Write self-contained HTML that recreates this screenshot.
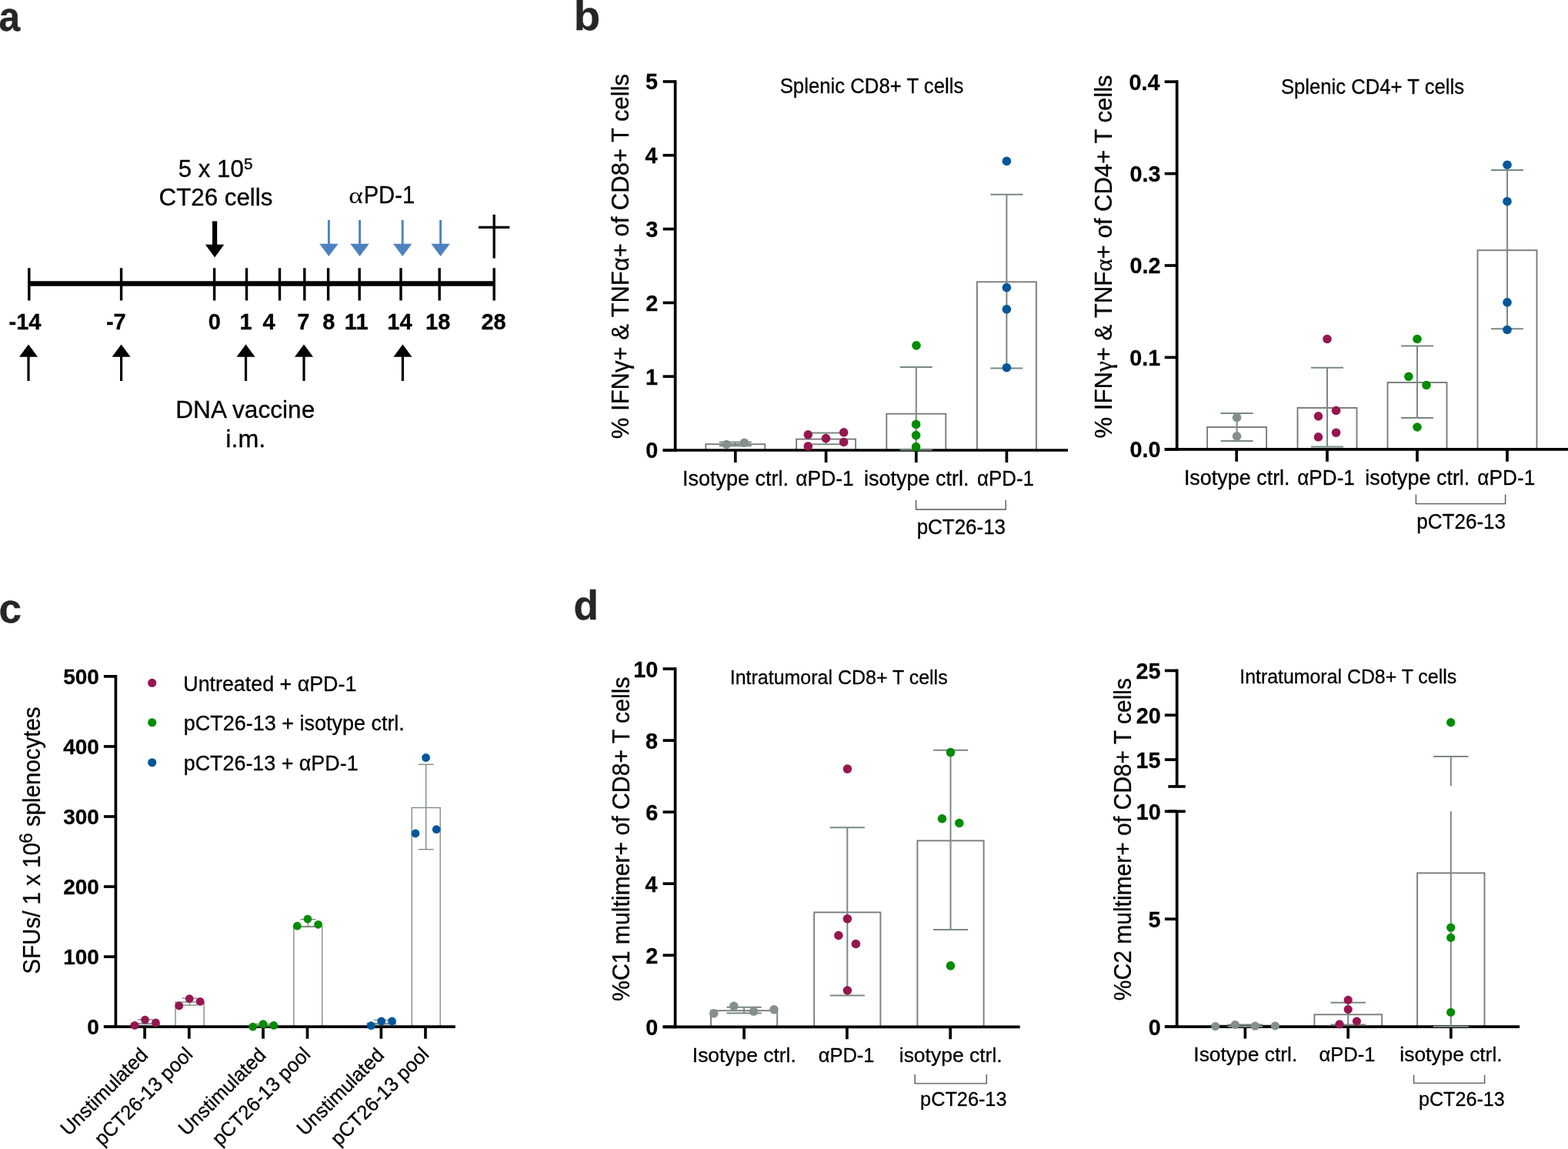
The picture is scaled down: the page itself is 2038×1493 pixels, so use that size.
<!DOCTYPE html>
<html><head><meta charset="utf-8"><title>Figure</title>
<style>html,body{margin:0;padding:0;background:#fff;overflow:hidden;} svg{display:block;} text{font-family:"Liberation Sans",Arial,sans-serif;}</style>
</head><body>
<svg width="2038" height="1493" viewBox="0 0 2038 1493">
<rect width="2038" height="1493" fill="#fff"/>
<text x="-1.50" y="39.50" font-size="53" text-anchor="start" font-weight="bold" textLength="27.6" lengthAdjust="spacingAndGlyphs" fill="#262626" stroke="#262626" stroke-width="0.3">a</text>
<text x="745.80" y="39.00" font-size="53" text-anchor="start" font-weight="bold" textLength="34.4" lengthAdjust="spacingAndGlyphs" fill="#262626" stroke="#262626" stroke-width="0.3">b</text>
<text x="-1.50" y="808.50" font-size="53" text-anchor="start" font-weight="bold" fill="#262626" stroke="#262626" stroke-width="0.3">c</text>
<text x="745.50" y="805.00" font-size="53" text-anchor="start" font-weight="bold" fill="#262626" stroke="#262626" stroke-width="0.3">d</text>
<line x1="36.10" y1="368.50" x2="642.20" y2="368.50" stroke="#000" stroke-width="6.5" stroke-linecap="butt"/>
<line x1="37.80" y1="348.30" x2="37.80" y2="390.50" stroke="#000" stroke-width="3.4" stroke-linecap="butt"/>
<line x1="157.60" y1="348.30" x2="157.60" y2="390.50" stroke="#000" stroke-width="3.4" stroke-linecap="butt"/>
<line x1="278.60" y1="348.30" x2="278.60" y2="390.50" stroke="#000" stroke-width="3.4" stroke-linecap="butt"/>
<line x1="320.50" y1="348.30" x2="320.50" y2="390.50" stroke="#000" stroke-width="3.4" stroke-linecap="butt"/>
<line x1="363.50" y1="348.30" x2="363.50" y2="390.50" stroke="#000" stroke-width="3.4" stroke-linecap="butt"/>
<line x1="395.80" y1="348.30" x2="395.80" y2="390.50" stroke="#000" stroke-width="3.4" stroke-linecap="butt"/>
<line x1="426.60" y1="348.30" x2="426.60" y2="390.50" stroke="#000" stroke-width="3.4" stroke-linecap="butt"/>
<line x1="467.20" y1="348.30" x2="467.20" y2="390.50" stroke="#000" stroke-width="3.4" stroke-linecap="butt"/>
<line x1="521.00" y1="348.30" x2="521.00" y2="390.50" stroke="#000" stroke-width="3.4" stroke-linecap="butt"/>
<line x1="571.20" y1="348.30" x2="571.20" y2="390.50" stroke="#000" stroke-width="3.4" stroke-linecap="butt"/>
<line x1="642.20" y1="348.30" x2="642.20" y2="390.50" stroke="#000" stroke-width="3.4" stroke-linecap="butt"/>
<text x="32.50" y="427.90" font-size="29" text-anchor="middle" font-weight="bold" fill="#000" stroke="#000" stroke-width="0.3">-14</text>
<text x="150.80" y="427.90" font-size="29" text-anchor="middle" font-weight="bold" fill="#000" stroke="#000" stroke-width="0.3">-7</text>
<text x="278.90" y="427.90" font-size="29" text-anchor="middle" font-weight="bold" fill="#000" stroke="#000" stroke-width="0.3">0</text>
<text x="319.50" y="427.90" font-size="29" text-anchor="middle" font-weight="bold" fill="#000" stroke="#000" stroke-width="0.3">1</text>
<text x="349.60" y="427.90" font-size="29" text-anchor="middle" font-weight="bold" fill="#000" stroke="#000" stroke-width="0.3">4</text>
<text x="394.40" y="427.90" font-size="29" text-anchor="middle" font-weight="bold" fill="#000" stroke="#000" stroke-width="0.3">7</text>
<text x="427.20" y="427.90" font-size="29" text-anchor="middle" font-weight="bold" fill="#000" stroke="#000" stroke-width="0.3">8</text>
<text x="463.20" y="427.90" font-size="29" text-anchor="middle" font-weight="bold" fill="#000" stroke="#000" stroke-width="0.3">11</text>
<text x="519.40" y="427.90" font-size="29" text-anchor="middle" font-weight="bold" fill="#000" stroke="#000" stroke-width="0.3">14</text>
<text x="569.20" y="427.90" font-size="29" text-anchor="middle" font-weight="bold" fill="#000" stroke="#000" stroke-width="0.3">18</text>
<text x="641.60" y="427.90" font-size="29" text-anchor="middle" font-weight="bold" fill="#000" stroke="#000" stroke-width="0.3">28</text>
<line x1="279.10" y1="287.40" x2="279.10" y2="318.50" stroke="#000" stroke-width="6.2" stroke-linecap="butt"/>
<polygon points="266.9,317.8 291.3,317.8 279.1,334.5" fill="#000"/>
<line x1="427.40" y1="286.00" x2="427.40" y2="318.00" stroke="#4e81bf" stroke-width="2.9" stroke-linecap="butt"/>
<polygon points="415.2,316.8 439.6,316.8 427.4,333" fill="#4e81bf"/>
<line x1="467.60" y1="286.00" x2="467.60" y2="318.00" stroke="#4e81bf" stroke-width="2.9" stroke-linecap="butt"/>
<polygon points="455.4,316.8 479.8,316.8 467.6,333" fill="#4e81bf"/>
<line x1="523.20" y1="286.00" x2="523.20" y2="318.00" stroke="#4e81bf" stroke-width="2.9" stroke-linecap="butt"/>
<polygon points="511.0,316.8 535.4,316.8 523.2,333" fill="#4e81bf"/>
<line x1="572.60" y1="286.00" x2="572.60" y2="318.00" stroke="#4e81bf" stroke-width="2.9" stroke-linecap="butt"/>
<polygon points="560.4,316.8 584.8,316.8 572.6,333" fill="#4e81bf"/>
<line x1="642.20" y1="278.80" x2="642.20" y2="335.60" stroke="#000" stroke-width="3.3" stroke-linecap="butt"/>
<line x1="622.00" y1="295.40" x2="662.30" y2="295.40" stroke="#000" stroke-width="3.2" stroke-linecap="butt"/>
<line x1="37.00" y1="462.00" x2="37.00" y2="495.00" stroke="#000" stroke-width="3.2" stroke-linecap="butt"/>
<polygon points="25.0,463.8 49.0,463.8 37.0,447.5" fill="#000"/>
<line x1="157.60" y1="462.00" x2="157.60" y2="495.00" stroke="#000" stroke-width="3.2" stroke-linecap="butt"/>
<polygon points="145.6,463.8 169.6,463.8 157.6,447.5" fill="#000"/>
<line x1="319.50" y1="462.00" x2="319.50" y2="495.00" stroke="#000" stroke-width="3.2" stroke-linecap="butt"/>
<polygon points="307.5,463.8 331.5,463.8 319.5,447.5" fill="#000"/>
<line x1="395.00" y1="462.00" x2="395.00" y2="495.00" stroke="#000" stroke-width="3.2" stroke-linecap="butt"/>
<polygon points="383.0,463.8 407.0,463.8 395.0,447.5" fill="#000"/>
<line x1="523.40" y1="462.00" x2="523.40" y2="495.00" stroke="#000" stroke-width="3.2" stroke-linecap="butt"/>
<polygon points="511.4,463.8 535.4,463.8 523.4,447.5" fill="#000"/>
<text x="231.75" y="229.50" font-size="31" text-anchor="start" textLength="85.1" lengthAdjust="spacingAndGlyphs" fill="#000" stroke="#000" stroke-width="0.3">5 x 10</text>
<text x="316.97" y="220.30" font-size="20.5" text-anchor="start" textLength="11.6" lengthAdjust="spacingAndGlyphs" fill="#000" stroke="#000" stroke-width="0.3">5</text>
<text x="206.64" y="266.80" font-size="31" text-anchor="start" textLength="147.8" lengthAdjust="spacingAndGlyphs" fill="#000" stroke="#000" stroke-width="0.3">CT26 cells</text>
<text x="453.3" y="263.9" font-size="30" style="font-family:'Liberation Serif',serif" textLength="18.5" lengthAdjust="spacingAndGlyphs">α</text>
<text x="472.66" y="263.90" font-size="31" text-anchor="start" textLength="66.5" lengthAdjust="spacingAndGlyphs" fill="#000" stroke="#000" stroke-width="0.3">PD-1</text>
<text x="228.27" y="543.10" font-size="31" text-anchor="start" textLength="181.0" lengthAdjust="spacingAndGlyphs" fill="#000" stroke="#000" stroke-width="0.3">DNA vaccine</text>
<text x="293.35" y="580.80" font-size="31" text-anchor="start" textLength="51.8" lengthAdjust="spacingAndGlyphs" fill="#000" stroke="#000" stroke-width="0.3">i.m.</text>
<rect x="917.30" y="577.20" width="77.00" height="7.80" fill="none" stroke="#7b7b7b" stroke-width="1.9"/>
<rect x="1035.10" y="570.60" width="77.00" height="14.40" fill="none" stroke="#7b7b7b" stroke-width="1.9"/>
<rect x="1152.30" y="537.70" width="77.00" height="47.30" fill="none" stroke="#7b7b7b" stroke-width="1.9"/>
<rect x="1269.90" y="366.30" width="77.00" height="218.70" fill="none" stroke="#7b7b7b" stroke-width="1.9"/>
<line x1="877.65" y1="104.15" x2="877.65" y2="586.85" stroke="#000" stroke-width="3.7" stroke-linecap="butt"/>
<line x1="861.65" y1="585.00" x2="1388.00" y2="585.00" stroke="#000" stroke-width="3.7" stroke-linecap="butt"/>
<line x1="861.65" y1="585.00" x2="877.65" y2="585.00" stroke="#000" stroke-width="3.7" stroke-linecap="butt"/>
<text x="855.34" y="595.43" font-size="30" text-anchor="end" font-weight="bold" textLength="16.0" lengthAdjust="spacingAndGlyphs" fill="#000" stroke="#000" stroke-width="0.3">0</text>
<line x1="861.65" y1="489.20" x2="877.65" y2="489.20" stroke="#000" stroke-width="3.7" stroke-linecap="butt"/>
<text x="855.05" y="499.62" font-size="30" text-anchor="end" font-weight="bold" textLength="16.0" lengthAdjust="spacingAndGlyphs" fill="#000" stroke="#000" stroke-width="0.3">1</text>
<line x1="861.65" y1="393.40" x2="877.65" y2="393.40" stroke="#000" stroke-width="3.7" stroke-linecap="butt"/>
<text x="855.34" y="403.82" font-size="30" text-anchor="end" font-weight="bold" textLength="16.0" lengthAdjust="spacingAndGlyphs" fill="#000" stroke="#000" stroke-width="0.3">2</text>
<line x1="861.65" y1="297.60" x2="877.65" y2="297.60" stroke="#000" stroke-width="3.7" stroke-linecap="butt"/>
<text x="855.34" y="308.03" font-size="30" text-anchor="end" font-weight="bold" textLength="16.0" lengthAdjust="spacingAndGlyphs" fill="#000" stroke="#000" stroke-width="0.3">3</text>
<line x1="861.65" y1="201.80" x2="877.65" y2="201.80" stroke="#000" stroke-width="3.7" stroke-linecap="butt"/>
<text x="854.48" y="212.22" font-size="30" text-anchor="end" font-weight="bold" textLength="16.0" lengthAdjust="spacingAndGlyphs" fill="#000" stroke="#000" stroke-width="0.3">4</text>
<line x1="861.65" y1="106.00" x2="877.65" y2="106.00" stroke="#000" stroke-width="3.7" stroke-linecap="butt"/>
<text x="855.05" y="116.42" font-size="30" text-anchor="end" font-weight="bold" textLength="16.0" lengthAdjust="spacingAndGlyphs" fill="#000" stroke="#000" stroke-width="0.3">5</text>
<line x1="955.80" y1="585.00" x2="955.80" y2="601.00" stroke="#000" stroke-width="3.7" stroke-linecap="butt"/>
<line x1="1073.60" y1="585.00" x2="1073.60" y2="601.00" stroke="#000" stroke-width="3.7" stroke-linecap="butt"/>
<line x1="1190.80" y1="585.00" x2="1190.80" y2="601.00" stroke="#000" stroke-width="3.7" stroke-linecap="butt"/>
<line x1="1308.40" y1="585.00" x2="1308.40" y2="601.00" stroke="#000" stroke-width="3.7" stroke-linecap="butt"/>
<line x1="955.80" y1="574.60" x2="955.80" y2="579.20" stroke="#7a8983" stroke-width="2" stroke-linecap="butt"/>
<line x1="934.80" y1="574.60" x2="976.80" y2="574.60" stroke="#7a8983" stroke-width="2" stroke-linecap="butt"/>
<line x1="934.80" y1="579.20" x2="976.80" y2="579.20" stroke="#7a8983" stroke-width="2" stroke-linecap="butt"/>
<line x1="1073.60" y1="562.40" x2="1073.60" y2="577.20" stroke="#7a8983" stroke-width="2" stroke-linecap="butt"/>
<line x1="1052.60" y1="562.40" x2="1094.60" y2="562.40" stroke="#7a8983" stroke-width="2" stroke-linecap="butt"/>
<line x1="1052.60" y1="577.20" x2="1094.60" y2="577.20" stroke="#7a8983" stroke-width="2" stroke-linecap="butt"/>
<line x1="1190.80" y1="476.90" x2="1190.80" y2="584.60" stroke="#7a8983" stroke-width="2" stroke-linecap="butt"/>
<line x1="1169.80" y1="476.90" x2="1211.80" y2="476.90" stroke="#7a8983" stroke-width="2" stroke-linecap="butt"/>
<line x1="1169.80" y1="584.60" x2="1211.80" y2="584.60" stroke="#7a8983" stroke-width="2" stroke-linecap="butt"/>
<line x1="1308.40" y1="252.70" x2="1308.40" y2="478.60" stroke="#7a8983" stroke-width="2" stroke-linecap="butt"/>
<line x1="1287.40" y1="252.70" x2="1329.40" y2="252.70" stroke="#7a8983" stroke-width="2" stroke-linecap="butt"/>
<line x1="1287.40" y1="478.60" x2="1329.40" y2="478.60" stroke="#7a8983" stroke-width="2" stroke-linecap="butt"/>
<circle cx="944.30" cy="577.50" r="5.8" fill="#849089"/>
<circle cx="967.50" cy="575.30" r="5.8" fill="#849089"/>
<circle cx="1050.30" cy="564.80" r="5.8" fill="#961650"/>
<circle cx="1050.30" cy="579.90" r="5.8" fill="#961650"/>
<circle cx="1073.50" cy="569.60" r="5.8" fill="#961650"/>
<circle cx="1096.70" cy="561.80" r="5.8" fill="#961650"/>
<circle cx="1096.70" cy="574.50" r="5.8" fill="#961650"/>
<circle cx="1191.00" cy="448.90" r="5.8" fill="#048c04"/>
<circle cx="1190.60" cy="551.40" r="5.8" fill="#048c04"/>
<circle cx="1190.60" cy="565.60" r="5.8" fill="#048c04"/>
<circle cx="1190.60" cy="580.60" r="5.8" fill="#048c04"/>
<circle cx="1308.40" cy="209.40" r="5.8" fill="#02569a"/>
<circle cx="1308.40" cy="373.60" r="5.8" fill="#02569a"/>
<circle cx="1308.40" cy="401.90" r="5.8" fill="#02569a"/>
<circle cx="1308.40" cy="477.70" r="5.8" fill="#02569a"/>
<text x="1013.71" y="120.50" font-size="27" text-anchor="start" textLength="238.6" lengthAdjust="spacingAndGlyphs" fill="#000" stroke="#000" stroke-width="0.3">Splenic CD8+ T cells</text>
<text x="886.97" y="631.10" font-size="27" text-anchor="start" textLength="138.0" lengthAdjust="spacingAndGlyphs" fill="#000" stroke="#000" stroke-width="0.3">Isotype ctrl.</text>
<text x="1034.34" y="631.10" font-size="27" text-anchor="start" textLength="75.4" lengthAdjust="spacingAndGlyphs" fill="#000" stroke="#000" stroke-width="0.3">αPD-1</text>
<text x="1123.01" y="631.10" font-size="27" text-anchor="start" textLength="136.6" lengthAdjust="spacingAndGlyphs" fill="#000" stroke="#000" stroke-width="0.3">isotype ctrl.</text>
<text x="1269.96" y="631.10" font-size="27" text-anchor="start" textLength="74.0" lengthAdjust="spacingAndGlyphs" fill="#000" stroke="#000" stroke-width="0.3">αPD-1</text>
<path d="M1190.6,650 V662 H1307.2 V650" fill="none" stroke="#555" stroke-width="1.4"/>
<text x="1191.64" y="694.20" font-size="27" text-anchor="start" textLength="115.4" lengthAdjust="spacingAndGlyphs" fill="#000" stroke="#000" stroke-width="0.3">pCT26-13</text>
<text transform="translate(816.80,570.14) rotate(-90)" font-size="31.5" text-anchor="start" textLength="474.2" lengthAdjust="spacingAndGlyphs" fill="#000" stroke="#000" stroke-width="0.3">% IFNγ+ &amp; TNFα+ of CD8+ T cells</text>
<rect x="1569.10" y="555.00" width="77.00" height="28.80" fill="none" stroke="#7b7b7b" stroke-width="1.9"/>
<rect x="1686.50" y="530.00" width="77.00" height="53.80" fill="none" stroke="#7b7b7b" stroke-width="1.9"/>
<rect x="1803.50" y="497.00" width="77.00" height="86.80" fill="none" stroke="#7b7b7b" stroke-width="1.9"/>
<rect x="1920.50" y="325.20" width="77.00" height="258.60" fill="none" stroke="#7b7b7b" stroke-width="1.9"/>
<line x1="1529.70" y1="104.35" x2="1529.70" y2="585.65" stroke="#000" stroke-width="3.7" stroke-linecap="butt"/>
<line x1="1513.70" y1="583.80" x2="2040.00" y2="583.80" stroke="#000" stroke-width="3.7" stroke-linecap="butt"/>
<line x1="1513.70" y1="583.80" x2="1529.70" y2="583.80" stroke="#000" stroke-width="3.7" stroke-linecap="butt"/>
<text x="1508.45" y="594.23" font-size="30" text-anchor="end" font-weight="bold" textLength="40.0" lengthAdjust="spacingAndGlyphs" fill="#000" stroke="#000" stroke-width="0.3">0.0</text>
<line x1="1513.70" y1="464.40" x2="1529.70" y2="464.40" stroke="#000" stroke-width="3.7" stroke-linecap="butt"/>
<text x="1508.16" y="474.82" font-size="30" text-anchor="end" font-weight="bold" textLength="40.0" lengthAdjust="spacingAndGlyphs" fill="#000" stroke="#000" stroke-width="0.3">0.1</text>
<line x1="1513.70" y1="345.00" x2="1529.70" y2="345.00" stroke="#000" stroke-width="3.7" stroke-linecap="butt"/>
<text x="1508.45" y="355.42" font-size="30" text-anchor="end" font-weight="bold" textLength="40.0" lengthAdjust="spacingAndGlyphs" fill="#000" stroke="#000" stroke-width="0.3">0.2</text>
<line x1="1513.70" y1="225.60" x2="1529.70" y2="225.60" stroke="#000" stroke-width="3.7" stroke-linecap="butt"/>
<text x="1508.45" y="236.02" font-size="30" text-anchor="end" font-weight="bold" textLength="40.0" lengthAdjust="spacingAndGlyphs" fill="#000" stroke="#000" stroke-width="0.3">0.3</text>
<line x1="1513.70" y1="106.20" x2="1529.70" y2="106.20" stroke="#000" stroke-width="3.7" stroke-linecap="butt"/>
<text x="1507.59" y="116.62" font-size="30" text-anchor="end" font-weight="bold" textLength="40.0" lengthAdjust="spacingAndGlyphs" fill="#000" stroke="#000" stroke-width="0.3">0.4</text>
<line x1="1607.20" y1="583.80" x2="1607.20" y2="599.80" stroke="#000" stroke-width="3.7" stroke-linecap="butt"/>
<line x1="1725.00" y1="583.80" x2="1725.00" y2="599.80" stroke="#000" stroke-width="3.7" stroke-linecap="butt"/>
<line x1="1842.00" y1="583.80" x2="1842.00" y2="599.80" stroke="#000" stroke-width="3.7" stroke-linecap="butt"/>
<line x1="1959.00" y1="583.80" x2="1959.00" y2="599.80" stroke="#000" stroke-width="3.7" stroke-linecap="butt"/>
<line x1="1607.60" y1="536.90" x2="1607.60" y2="573.00" stroke="#7a8983" stroke-width="2" stroke-linecap="butt"/>
<line x1="1586.60" y1="536.90" x2="1628.60" y2="536.90" stroke="#7a8983" stroke-width="2" stroke-linecap="butt"/>
<line x1="1586.60" y1="573.00" x2="1628.60" y2="573.00" stroke="#7a8983" stroke-width="2" stroke-linecap="butt"/>
<line x1="1725.00" y1="477.80" x2="1725.00" y2="580.60" stroke="#7a8983" stroke-width="2" stroke-linecap="butt"/>
<line x1="1704.00" y1="477.80" x2="1746.00" y2="477.80" stroke="#7a8983" stroke-width="2" stroke-linecap="butt"/>
<line x1="1704.00" y1="580.60" x2="1746.00" y2="580.60" stroke="#7a8983" stroke-width="2" stroke-linecap="butt"/>
<line x1="1842.00" y1="449.50" x2="1842.00" y2="542.90" stroke="#7a8983" stroke-width="2" stroke-linecap="butt"/>
<line x1="1821.00" y1="449.50" x2="1863.00" y2="449.50" stroke="#7a8983" stroke-width="2" stroke-linecap="butt"/>
<line x1="1821.00" y1="542.90" x2="1863.00" y2="542.90" stroke="#7a8983" stroke-width="2" stroke-linecap="butt"/>
<line x1="1959.00" y1="221.00" x2="1959.00" y2="427.20" stroke="#7a8983" stroke-width="2" stroke-linecap="butt"/>
<line x1="1938.00" y1="221.00" x2="1980.00" y2="221.00" stroke="#7a8983" stroke-width="2" stroke-linecap="butt"/>
<line x1="1938.00" y1="427.20" x2="1980.00" y2="427.20" stroke="#7a8983" stroke-width="2" stroke-linecap="butt"/>
<circle cx="1607.60" cy="542.50" r="5.8" fill="#849089"/>
<circle cx="1607.60" cy="566.90" r="5.8" fill="#849089"/>
<circle cx="1725.00" cy="440.50" r="5.8" fill="#961650"/>
<circle cx="1713.50" cy="540.80" r="5.8" fill="#961650"/>
<circle cx="1736.60" cy="533.50" r="5.8" fill="#961650"/>
<circle cx="1713.50" cy="567.80" r="5.8" fill="#961650"/>
<circle cx="1736.60" cy="562.20" r="5.8" fill="#961650"/>
<circle cx="1842.00" cy="440.50" r="5.8" fill="#048c04"/>
<circle cx="1830.90" cy="489.30" r="5.8" fill="#048c04"/>
<circle cx="1854.00" cy="500.50" r="5.8" fill="#048c04"/>
<circle cx="1842.00" cy="555.00" r="5.8" fill="#048c04"/>
<circle cx="1959.00" cy="214.20" r="5.8" fill="#02569a"/>
<circle cx="1959.00" cy="261.70" r="5.8" fill="#02569a"/>
<circle cx="1959.00" cy="392.90" r="5.8" fill="#02569a"/>
<circle cx="1959.00" cy="428.50" r="5.8" fill="#02569a"/>
<text x="1664.92" y="122.00" font-size="27" text-anchor="start" textLength="238.1" lengthAdjust="spacingAndGlyphs" fill="#000" stroke="#000" stroke-width="0.3">Splenic CD4+ T cells</text>
<text x="1538.88" y="630.10" font-size="27" text-anchor="start" textLength="137.7" lengthAdjust="spacingAndGlyphs" fill="#000" stroke="#000" stroke-width="0.3">Isotype ctrl.</text>
<text x="1686.26" y="630.10" font-size="27" text-anchor="start" textLength="74.6" lengthAdjust="spacingAndGlyphs" fill="#000" stroke="#000" stroke-width="0.3">αPD-1</text>
<text x="1774.22" y="630.10" font-size="27" text-anchor="start" textLength="136.1" lengthAdjust="spacingAndGlyphs" fill="#000" stroke="#000" stroke-width="0.3">isotype ctrl.</text>
<text x="1920.35" y="630.10" font-size="27" text-anchor="start" textLength="74.9" lengthAdjust="spacingAndGlyphs" fill="#000" stroke="#000" stroke-width="0.3">αPD-1</text>
<path d="M1840.4,642.4 V654.6 H1956.6 V642.4" fill="none" stroke="#555" stroke-width="1.4"/>
<text x="1841.24" y="686.70" font-size="27" text-anchor="start" textLength="115.8" lengthAdjust="spacingAndGlyphs" fill="#000" stroke="#000" stroke-width="0.3">pCT26-13</text>
<text transform="translate(1444.50,569.43) rotate(-90)" font-size="31.5" text-anchor="start" textLength="472.1" lengthAdjust="spacingAndGlyphs" fill="#000" stroke="#000" stroke-width="0.3">% IFN<tspan font-family="Liberation Serif">γ</tspan>+ &amp; TNF<tspan font-family="Liberation Serif">α</tspan>+ of CD4+ T cells</text>
<rect x="170.10" y="1330.00" width="37.00" height="4.20" fill="none" stroke="#7a8983" stroke-width="1.35"/>
<rect x="228.10" y="1302.10" width="37.00" height="32.10" fill="none" stroke="#7a8983" stroke-width="1.35"/>
<rect x="323.80" y="1332.40" width="37.00" height="1.80" fill="none" stroke="#7a8983" stroke-width="1.35"/>
<rect x="381.80" y="1203.80" width="37.00" height="130.40" fill="none" stroke="#7a8983" stroke-width="1.35"/>
<rect x="477.30" y="1329.50" width="37.00" height="4.70" fill="none" stroke="#7a8983" stroke-width="1.35"/>
<rect x="535.20" y="1049.50" width="37.00" height="284.70" fill="none" stroke="#7a8983" stroke-width="1.35"/>
<line x1="150.40" y1="877.05" x2="150.40" y2="1336.05" stroke="#000" stroke-width="3.7" stroke-linecap="butt"/>
<line x1="134.90" y1="1334.20" x2="591.80" y2="1334.20" stroke="#000" stroke-width="3.7" stroke-linecap="butt"/>
<line x1="134.90" y1="1334.20" x2="150.40" y2="1334.20" stroke="#000" stroke-width="3.7" stroke-linecap="butt"/>
<text x="128.81" y="1343.91" font-size="28" text-anchor="end" font-weight="bold" textLength="15.6" lengthAdjust="spacingAndGlyphs" fill="#000" stroke="#000" stroke-width="0.3">0</text>
<line x1="134.90" y1="1243.14" x2="150.40" y2="1243.14" stroke="#000" stroke-width="3.7" stroke-linecap="butt"/>
<text x="128.87" y="1252.85" font-size="28" text-anchor="end" font-weight="bold" textLength="46.7" lengthAdjust="spacingAndGlyphs" fill="#000" stroke="#000" stroke-width="0.3">100</text>
<line x1="134.90" y1="1152.08" x2="150.40" y2="1152.08" stroke="#000" stroke-width="3.7" stroke-linecap="butt"/>
<text x="128.87" y="1161.79" font-size="28" text-anchor="end" font-weight="bold" textLength="46.7" lengthAdjust="spacingAndGlyphs" fill="#000" stroke="#000" stroke-width="0.3">200</text>
<line x1="134.90" y1="1061.02" x2="150.40" y2="1061.02" stroke="#000" stroke-width="3.7" stroke-linecap="butt"/>
<text x="128.87" y="1070.73" font-size="28" text-anchor="end" font-weight="bold" textLength="46.7" lengthAdjust="spacingAndGlyphs" fill="#000" stroke="#000" stroke-width="0.3">300</text>
<line x1="134.90" y1="969.96" x2="150.40" y2="969.96" stroke="#000" stroke-width="3.7" stroke-linecap="butt"/>
<text x="128.87" y="979.67" font-size="28" text-anchor="end" font-weight="bold" textLength="46.7" lengthAdjust="spacingAndGlyphs" fill="#000" stroke="#000" stroke-width="0.3">400</text>
<line x1="134.90" y1="878.90" x2="150.40" y2="878.90" stroke="#000" stroke-width="3.7" stroke-linecap="butt"/>
<text x="128.87" y="888.61" font-size="28" text-anchor="end" font-weight="bold" textLength="46.7" lengthAdjust="spacingAndGlyphs" fill="#000" stroke="#000" stroke-width="0.3">500</text>
<line x1="188.10" y1="1334.20" x2="188.10" y2="1349.70" stroke="#000" stroke-width="3.7" stroke-linecap="butt"/>
<line x1="245.80" y1="1334.20" x2="245.80" y2="1349.70" stroke="#000" stroke-width="3.7" stroke-linecap="butt"/>
<line x1="342.00" y1="1334.20" x2="342.00" y2="1349.70" stroke="#000" stroke-width="3.7" stroke-linecap="butt"/>
<line x1="399.50" y1="1334.20" x2="399.50" y2="1349.70" stroke="#000" stroke-width="3.7" stroke-linecap="butt"/>
<line x1="495.40" y1="1334.20" x2="495.40" y2="1349.70" stroke="#000" stroke-width="3.7" stroke-linecap="butt"/>
<line x1="553.00" y1="1334.20" x2="553.00" y2="1349.70" stroke="#000" stroke-width="3.7" stroke-linecap="butt"/>
<line x1="188.60" y1="1324.80" x2="188.60" y2="1330.50" stroke="#7a8983" stroke-width="1.35" stroke-linecap="butt"/>
<line x1="178.60" y1="1324.80" x2="198.60" y2="1324.80" stroke="#7a8983" stroke-width="1.35" stroke-linecap="butt"/>
<line x1="178.60" y1="1330.50" x2="198.60" y2="1330.50" stroke="#7a8983" stroke-width="1.35" stroke-linecap="butt"/>
<line x1="246.60" y1="1297.10" x2="246.60" y2="1306.10" stroke="#7a8983" stroke-width="1.35" stroke-linecap="butt"/>
<line x1="236.60" y1="1297.10" x2="256.60" y2="1297.10" stroke="#7a8983" stroke-width="1.35" stroke-linecap="butt"/>
<line x1="236.60" y1="1306.10" x2="256.60" y2="1306.10" stroke="#7a8983" stroke-width="1.35" stroke-linecap="butt"/>
<line x1="342.30" y1="1330.60" x2="342.30" y2="1333.20" stroke="#7a8983" stroke-width="1.35" stroke-linecap="butt"/>
<line x1="332.30" y1="1330.60" x2="352.30" y2="1330.60" stroke="#7a8983" stroke-width="1.35" stroke-linecap="butt"/>
<line x1="332.30" y1="1333.20" x2="352.30" y2="1333.20" stroke="#7a8983" stroke-width="1.35" stroke-linecap="butt"/>
<line x1="400.30" y1="1194.70" x2="400.30" y2="1204.40" stroke="#7a8983" stroke-width="1.35" stroke-linecap="butt"/>
<line x1="390.30" y1="1194.70" x2="410.30" y2="1194.70" stroke="#7a8983" stroke-width="1.35" stroke-linecap="butt"/>
<line x1="390.30" y1="1204.40" x2="410.30" y2="1204.40" stroke="#7a8983" stroke-width="1.35" stroke-linecap="butt"/>
<line x1="495.80" y1="1325.50" x2="495.80" y2="1331.00" stroke="#7a8983" stroke-width="1.35" stroke-linecap="butt"/>
<line x1="485.80" y1="1325.50" x2="505.80" y2="1325.50" stroke="#7a8983" stroke-width="1.35" stroke-linecap="butt"/>
<line x1="485.80" y1="1331.00" x2="505.80" y2="1331.00" stroke="#7a8983" stroke-width="1.35" stroke-linecap="butt"/>
<line x1="553.70" y1="993.30" x2="553.70" y2="1103.70" stroke="#7a8983" stroke-width="1.35" stroke-linecap="butt"/>
<line x1="543.70" y1="993.30" x2="563.70" y2="993.30" stroke="#7a8983" stroke-width="1.35" stroke-linecap="butt"/>
<line x1="543.70" y1="1103.70" x2="563.70" y2="1103.70" stroke="#7a8983" stroke-width="1.35" stroke-linecap="butt"/>
<circle cx="175.10" cy="1332.40" r="5.4" fill="#961650"/>
<circle cx="188.50" cy="1325.10" r="5.4" fill="#961650"/>
<circle cx="202.40" cy="1328.90" r="5.4" fill="#961650"/>
<circle cx="232.80" cy="1306.90" r="5.4" fill="#961650"/>
<circle cx="246.20" cy="1297.70" r="5.4" fill="#961650"/>
<circle cx="260.10" cy="1301.40" r="5.4" fill="#961650"/>
<circle cx="328.70" cy="1334.20" r="5.4" fill="#048c04"/>
<circle cx="342.00" cy="1330.60" r="5.4" fill="#048c04"/>
<circle cx="355.80" cy="1332.40" r="5.4" fill="#048c04"/>
<circle cx="386.30" cy="1203.20" r="5.4" fill="#048c04"/>
<circle cx="399.90" cy="1194.10" r="5.4" fill="#048c04"/>
<circle cx="413.60" cy="1201.30" r="5.4" fill="#048c04"/>
<circle cx="482.40" cy="1332.70" r="5.4" fill="#02569a"/>
<circle cx="495.70" cy="1327.00" r="5.4" fill="#02569a"/>
<circle cx="509.50" cy="1327.00" r="5.4" fill="#02569a"/>
<circle cx="553.60" cy="984.50" r="5.4" fill="#02569a"/>
<circle cx="540.00" cy="1083.00" r="5.4" fill="#02569a"/>
<circle cx="567.20" cy="1077.70" r="5.4" fill="#02569a"/>
<circle cx="197.70" cy="887.40" r="5.6" fill="#961650"/>
<circle cx="197.70" cy="938.80" r="5.6" fill="#048c04"/>
<circle cx="197.70" cy="990.80" r="5.6" fill="#02569a"/>
<text x="238.25" y="897.70" font-size="27" text-anchor="start" textLength="225.1" lengthAdjust="spacingAndGlyphs" fill="#000" stroke="#000" stroke-width="0.3">Untreated + αPD-1</text>
<text x="238.78" y="948.90" font-size="27" text-anchor="start" textLength="287.1" lengthAdjust="spacingAndGlyphs" fill="#000" stroke="#000" stroke-width="0.3">pCT26-13 + isotype ctrl.</text>
<text x="238.79" y="1000.70" font-size="27" text-anchor="start" textLength="226.8" lengthAdjust="spacingAndGlyphs" fill="#000" stroke="#000" stroke-width="0.3">pCT26-13 + αPD-1</text>
<text transform="translate(52.00,1265.68) rotate(-90)" font-size="31" text-anchor="start" textLength="170.7" lengthAdjust="spacingAndGlyphs" fill="#000" stroke="#000" stroke-width="0.3">SFUs/ 1 x 10</text>
<text transform="translate(42.10,1095.71) rotate(-90)" font-size="24.5" text-anchor="start" textLength="13.4" lengthAdjust="spacingAndGlyphs" fill="#000" stroke="#000" stroke-width="0.3">6</text>
<text transform="translate(52.00,1073.98) rotate(-90)" font-size="31" text-anchor="start" textLength="155.5" lengthAdjust="spacingAndGlyphs" fill="#000" stroke="#000" stroke-width="0.3">splenocytes</text>
<text transform="translate(193.70,1372.50) rotate(-45)" font-size="26" text-anchor="end" textLength="147.9" lengthAdjust="spacingAndGlyphs" fill="#000" stroke="#000" stroke-width="0.3">Unstimulated</text>
<text transform="translate(347.10,1372.50) rotate(-45)" font-size="26" text-anchor="end" textLength="147.9" lengthAdjust="spacingAndGlyphs" fill="#000" stroke="#000" stroke-width="0.3">Unstimulated</text>
<text transform="translate(500.70,1372.50) rotate(-45)" font-size="26" text-anchor="end" textLength="147.9" lengthAdjust="spacingAndGlyphs" fill="#000" stroke="#000" stroke-width="0.3">Unstimulated</text>
<text transform="translate(251.90,1371.50) rotate(-45)" font-size="26" text-anchor="end" textLength="167.7" lengthAdjust="spacingAndGlyphs" fill="#000" stroke="#000" stroke-width="0.3">pCT26-13 pool</text>
<text transform="translate(404.90,1371.50) rotate(-45)" font-size="26" text-anchor="end" textLength="167.7" lengthAdjust="spacingAndGlyphs" fill="#000" stroke="#000" stroke-width="0.3">pCT26-13 pool</text>
<text transform="translate(558.90,1371.50) rotate(-45)" font-size="26" text-anchor="end" textLength="167.7" lengthAdjust="spacingAndGlyphs" fill="#000" stroke="#000" stroke-width="0.3">pCT26-13 pool</text>
<rect x="924.00" y="1313.20" width="86.20" height="21.10" fill="none" stroke="#7b7b7b" stroke-width="1.9"/>
<rect x="1058.20" y="1185.50" width="86.20" height="148.80" fill="none" stroke="#7b7b7b" stroke-width="1.9"/>
<rect x="1192.40" y="1092.40" width="86.20" height="241.90" fill="none" stroke="#7b7b7b" stroke-width="1.9"/>
<line x1="877.60" y1="867.25" x2="877.60" y2="1336.15" stroke="#000" stroke-width="3.7" stroke-linecap="butt"/>
<line x1="861.60" y1="1334.30" x2="1325.70" y2="1334.30" stroke="#000" stroke-width="3.7" stroke-linecap="butt"/>
<line x1="861.60" y1="1334.30" x2="877.60" y2="1334.30" stroke="#000" stroke-width="3.7" stroke-linecap="butt"/>
<text x="855.34" y="1344.72" font-size="30" text-anchor="end" font-weight="bold" textLength="16.0" lengthAdjust="spacingAndGlyphs" fill="#000" stroke="#000" stroke-width="0.3">0</text>
<line x1="861.60" y1="1241.26" x2="877.60" y2="1241.26" stroke="#000" stroke-width="3.7" stroke-linecap="butt"/>
<text x="855.34" y="1251.68" font-size="30" text-anchor="end" font-weight="bold" textLength="16.0" lengthAdjust="spacingAndGlyphs" fill="#000" stroke="#000" stroke-width="0.3">2</text>
<line x1="861.60" y1="1148.22" x2="877.60" y2="1148.22" stroke="#000" stroke-width="3.7" stroke-linecap="butt"/>
<text x="854.48" y="1158.64" font-size="30" text-anchor="end" font-weight="bold" textLength="16.0" lengthAdjust="spacingAndGlyphs" fill="#000" stroke="#000" stroke-width="0.3">4</text>
<line x1="861.60" y1="1055.18" x2="877.60" y2="1055.18" stroke="#000" stroke-width="3.7" stroke-linecap="butt"/>
<text x="855.34" y="1065.60" font-size="30" text-anchor="end" font-weight="bold" textLength="16.0" lengthAdjust="spacingAndGlyphs" fill="#000" stroke="#000" stroke-width="0.3">6</text>
<line x1="861.60" y1="962.14" x2="877.60" y2="962.14" stroke="#000" stroke-width="3.7" stroke-linecap="butt"/>
<text x="855.05" y="972.56" font-size="30" text-anchor="end" font-weight="bold" textLength="16.0" lengthAdjust="spacingAndGlyphs" fill="#000" stroke="#000" stroke-width="0.3">8</text>
<line x1="861.60" y1="869.10" x2="877.60" y2="869.10" stroke="#000" stroke-width="3.7" stroke-linecap="butt"/>
<text x="855.23" y="879.52" font-size="30" text-anchor="end" font-weight="bold" textLength="32.0" lengthAdjust="spacingAndGlyphs" fill="#000" stroke="#000" stroke-width="0.3">10</text>
<line x1="967.10" y1="1334.30" x2="967.10" y2="1350.30" stroke="#000" stroke-width="3.7" stroke-linecap="butt"/>
<line x1="1100.90" y1="1334.30" x2="1100.90" y2="1350.30" stroke="#000" stroke-width="3.7" stroke-linecap="butt"/>
<line x1="1235.20" y1="1334.30" x2="1235.20" y2="1350.30" stroke="#000" stroke-width="3.7" stroke-linecap="butt"/>
<line x1="967.10" y1="1308.70" x2="967.10" y2="1316.50" stroke="#7a8983" stroke-width="2" stroke-linecap="butt"/>
<line x1="944.50" y1="1308.70" x2="989.70" y2="1308.70" stroke="#7a8983" stroke-width="2" stroke-linecap="butt"/>
<line x1="944.50" y1="1316.50" x2="989.70" y2="1316.50" stroke="#7a8983" stroke-width="2" stroke-linecap="butt"/>
<line x1="1101.30" y1="1075.30" x2="1101.30" y2="1293.60" stroke="#7a8983" stroke-width="2" stroke-linecap="butt"/>
<line x1="1078.70" y1="1075.30" x2="1123.90" y2="1075.30" stroke="#7a8983" stroke-width="2" stroke-linecap="butt"/>
<line x1="1078.70" y1="1293.60" x2="1123.90" y2="1293.60" stroke="#7a8983" stroke-width="2" stroke-linecap="butt"/>
<line x1="1235.50" y1="974.80" x2="1235.50" y2="1208.00" stroke="#7a8983" stroke-width="2" stroke-linecap="butt"/>
<line x1="1212.90" y1="974.80" x2="1258.10" y2="974.80" stroke="#7a8983" stroke-width="2" stroke-linecap="butt"/>
<line x1="1212.90" y1="1208.00" x2="1258.10" y2="1208.00" stroke="#7a8983" stroke-width="2" stroke-linecap="butt"/>
<circle cx="927.80" cy="1316.80" r="5.8" fill="#849089"/>
<circle cx="953.80" cy="1307.30" r="5.8" fill="#849089"/>
<circle cx="979.50" cy="1314.20" r="5.8" fill="#849089"/>
<circle cx="1006.00" cy="1311.90" r="5.8" fill="#849089"/>
<circle cx="1101.40" cy="999.10" r="5.8" fill="#961650"/>
<circle cx="1101.40" cy="1193.90" r="5.8" fill="#961650"/>
<circle cx="1089.90" cy="1215.50" r="5.8" fill="#961650"/>
<circle cx="1112.40" cy="1226.50" r="5.8" fill="#961650"/>
<circle cx="1101.40" cy="1287.00" r="5.8" fill="#961650"/>
<circle cx="1235.50" cy="977.60" r="5.8" fill="#048c04"/>
<circle cx="1224.50" cy="1063.80" r="5.8" fill="#048c04"/>
<circle cx="1246.80" cy="1069.50" r="5.8" fill="#048c04"/>
<circle cx="1235.50" cy="1254.90" r="5.8" fill="#048c04"/>
<text x="948.75" y="889.00" font-size="26.5" text-anchor="start" textLength="282.9" lengthAdjust="spacingAndGlyphs" fill="#000" stroke="#000" stroke-width="0.3">Intratumoral CD8+ T cells</text>
<text x="899.82" y="1379.50" font-size="26.5" text-anchor="start" textLength="135.0" lengthAdjust="spacingAndGlyphs" fill="#000" stroke="#000" stroke-width="0.3">Isotype ctrl.</text>
<text x="1063.68" y="1379.50" font-size="26.5" text-anchor="start" textLength="72.9" lengthAdjust="spacingAndGlyphs" fill="#000" stroke="#000" stroke-width="0.3">αPD-1</text>
<text x="1168.75" y="1379.50" font-size="26.5" text-anchor="start" textLength="133.9" lengthAdjust="spacingAndGlyphs" fill="#000" stroke="#000" stroke-width="0.3">isotype ctrl.</text>
<path d="M1189.2,1396 V1407.9 H1282.3 V1396" fill="none" stroke="#555" stroke-width="1.4"/>
<text x="1196.08" y="1436.50" font-size="26.5" text-anchor="start" textLength="112.4" lengthAdjust="spacingAndGlyphs" fill="#000" stroke="#000" stroke-width="0.3">pCT26-13</text>
<text transform="translate(817.50,1300.91) rotate(-90)" font-size="31" text-anchor="start" textLength="421.4" lengthAdjust="spacingAndGlyphs" fill="#000" stroke="#000" stroke-width="0.3">%C1 multimer+ of CD8+ T cells</text>
<rect x="1574.70" y="1332.60" width="87.4" height="1.5" fill="none" stroke="#7b7b7b" stroke-width="1.9"/>
<rect x="1708.4" y="1318.3" width="87.8" height="15.80" fill="none" stroke="#7b7b7b" stroke-width="1.9"/>
<rect x="1842.10" y="1134.4" width="87.4" height="199.70" fill="none" stroke="#7b7b7b" stroke-width="1.9"/>
<line x1="1529.70" y1="869.55" x2="1529.70" y2="1022.00" stroke="#000" stroke-width="3.7" stroke-linecap="butt"/>
<line x1="1529.70" y1="1054.30" x2="1529.70" y2="1335.95" stroke="#000" stroke-width="3.7" stroke-linecap="butt"/>
<line x1="1513.90" y1="1334.10" x2="1975.10" y2="1334.10" stroke="#000" stroke-width="3.7" stroke-linecap="butt"/>
<line x1="1513.90" y1="871.40" x2="1529.70" y2="871.40" stroke="#000" stroke-width="3.7" stroke-linecap="butt"/>
<text x="1508.44" y="881.83" font-size="30" text-anchor="end" font-weight="bold" textLength="32.0" lengthAdjust="spacingAndGlyphs" fill="#000" stroke="#000" stroke-width="0.3">25</text>
<line x1="1513.90" y1="929.25" x2="1529.70" y2="929.25" stroke="#000" stroke-width="3.7" stroke-linecap="butt"/>
<text x="1508.73" y="939.68" font-size="30" text-anchor="end" font-weight="bold" textLength="32.0" lengthAdjust="spacingAndGlyphs" fill="#000" stroke="#000" stroke-width="0.3">20</text>
<line x1="1513.90" y1="987.10" x2="1529.70" y2="987.10" stroke="#000" stroke-width="3.7" stroke-linecap="butt"/>
<text x="1508.44" y="997.53" font-size="30" text-anchor="end" font-weight="bold" textLength="32.0" lengthAdjust="spacingAndGlyphs" fill="#000" stroke="#000" stroke-width="0.3">15</text>
<line x1="1518.30" y1="1022.00" x2="1540.80" y2="1022.00" stroke="#000" stroke-width="3.7" stroke-linecap="butt"/>
<line x1="1513.90" y1="1054.30" x2="1529.70" y2="1054.30" stroke="#000" stroke-width="3.7" stroke-linecap="butt"/>
<text x="1508.73" y="1064.72" font-size="30" text-anchor="end" font-weight="bold" textLength="32.0" lengthAdjust="spacingAndGlyphs" fill="#000" stroke="#000" stroke-width="0.3">10</text>
<line x1="1513.90" y1="1194.20" x2="1529.70" y2="1194.20" stroke="#000" stroke-width="3.7" stroke-linecap="butt"/>
<text x="1508.55" y="1204.62" font-size="30" text-anchor="end" font-weight="bold" textLength="16.0" lengthAdjust="spacingAndGlyphs" fill="#000" stroke="#000" stroke-width="0.3">5</text>
<line x1="1513.90" y1="1334.10" x2="1529.70" y2="1334.10" stroke="#000" stroke-width="3.7" stroke-linecap="butt"/>
<text x="1508.84" y="1344.52" font-size="30" text-anchor="end" font-weight="bold" textLength="16.0" lengthAdjust="spacingAndGlyphs" fill="#000" stroke="#000" stroke-width="0.3">0</text>
<line x1="1518.30" y1="1054.30" x2="1540.80" y2="1054.30" stroke="#000" stroke-width="3.7" stroke-linecap="butt"/>
<line x1="1618.40" y1="1334.10" x2="1618.40" y2="1349.60" stroke="#000" stroke-width="3.7" stroke-linecap="butt"/>
<line x1="1752.20" y1="1334.10" x2="1752.20" y2="1349.60" stroke="#000" stroke-width="3.7" stroke-linecap="butt"/>
<line x1="1885.80" y1="1334.10" x2="1885.80" y2="1349.60" stroke="#000" stroke-width="3.7" stroke-linecap="butt"/>
<line x1="1595.70" y1="1331.50" x2="1641.10" y2="1331.50" stroke="#7a8983" stroke-width="2" stroke-linecap="butt"/>
<line x1="1595.70" y1="1334.00" x2="1641.10" y2="1334.00" stroke="#7a8983" stroke-width="2" stroke-linecap="butt"/>
<line x1="1752.20" y1="1302.70" x2="1752.20" y2="1331.50" stroke="#7a8983" stroke-width="2" stroke-linecap="butt"/>
<line x1="1729.50" y1="1302.70" x2="1774.90" y2="1302.70" stroke="#7a8983" stroke-width="2" stroke-linecap="butt"/>
<line x1="1729.50" y1="1331.50" x2="1774.90" y2="1331.50" stroke="#7a8983" stroke-width="2" stroke-linecap="butt"/>
<line x1="1885.80" y1="983.00" x2="1885.80" y2="1021.40" stroke="#7a8983" stroke-width="2" stroke-linecap="butt"/>
<line x1="1885.80" y1="1054.30" x2="1885.80" y2="1334.00" stroke="#7a8983" stroke-width="2" stroke-linecap="butt"/>
<line x1="1863.10" y1="983.00" x2="1908.50" y2="983.00" stroke="#7a8983" stroke-width="2" stroke-linecap="butt"/>
<line x1="1618.40" y1="1331.50" x2="1618.40" y2="1334.00" stroke="#7a8983" stroke-width="2" stroke-linecap="butt"/>
<line x1="1862.80" y1="1334.00" x2="1908.80" y2="1334.00" stroke="#7a8983" stroke-width="2" stroke-linecap="butt"/>
<circle cx="1579.70" cy="1333.60" r="5.6" fill="#849089"/>
<circle cx="1605.30" cy="1331.50" r="5.6" fill="#849089"/>
<circle cx="1631.30" cy="1333.20" r="5.6" fill="#849089"/>
<circle cx="1657.40" cy="1333.00" r="5.6" fill="#849089"/>
<circle cx="1752.20" cy="1299.40" r="5.6" fill="#961650"/>
<circle cx="1752.20" cy="1311.60" r="5.6" fill="#961650"/>
<circle cx="1741.00" cy="1330.90" r="5.6" fill="#961650"/>
<circle cx="1763.40" cy="1327.10" r="5.6" fill="#961650"/>
<circle cx="1885.70" cy="938.70" r="5.6" fill="#048c04"/>
<circle cx="1885.70" cy="1205.30" r="5.6" fill="#048c04"/>
<circle cx="1885.70" cy="1218.40" r="5.6" fill="#048c04"/>
<circle cx="1885.70" cy="1315.40" r="5.6" fill="#048c04"/>
<text x="1611.26" y="888.00" font-size="26.5" text-anchor="start" textLength="281.9" lengthAdjust="spacingAndGlyphs" fill="#000" stroke="#000" stroke-width="0.3">Intratumoral CD8+ T cells</text>
<text x="1551.32" y="1378.50" font-size="26.5" text-anchor="start" textLength="135.0" lengthAdjust="spacingAndGlyphs" fill="#000" stroke="#000" stroke-width="0.3">Isotype ctrl.</text>
<text x="1714.48" y="1378.50" font-size="26.5" text-anchor="start" textLength="73.1" lengthAdjust="spacingAndGlyphs" fill="#000" stroke="#000" stroke-width="0.3">αPD-1</text>
<text x="1819.36" y="1378.50" font-size="26.5" text-anchor="start" textLength="133.2" lengthAdjust="spacingAndGlyphs" fill="#000" stroke="#000" stroke-width="0.3">isotype ctrl.</text>
<path d="M1837.6,1396.8 V1407.4 H1929.6 V1396.8" fill="none" stroke="#555" stroke-width="1.4"/>
<text x="1843.99" y="1436.50" font-size="26.5" text-anchor="start" textLength="111.8" lengthAdjust="spacingAndGlyphs" fill="#000" stroke="#000" stroke-width="0.3">pCT26-13</text>
<text transform="translate(1470.00,1300.20) rotate(-90)" font-size="31" text-anchor="start" textLength="419.2" lengthAdjust="spacingAndGlyphs" fill="#000" stroke="#000" stroke-width="0.3">%C2 multimer+ of CD8+ T cells</text>
</svg>
</body></html>
